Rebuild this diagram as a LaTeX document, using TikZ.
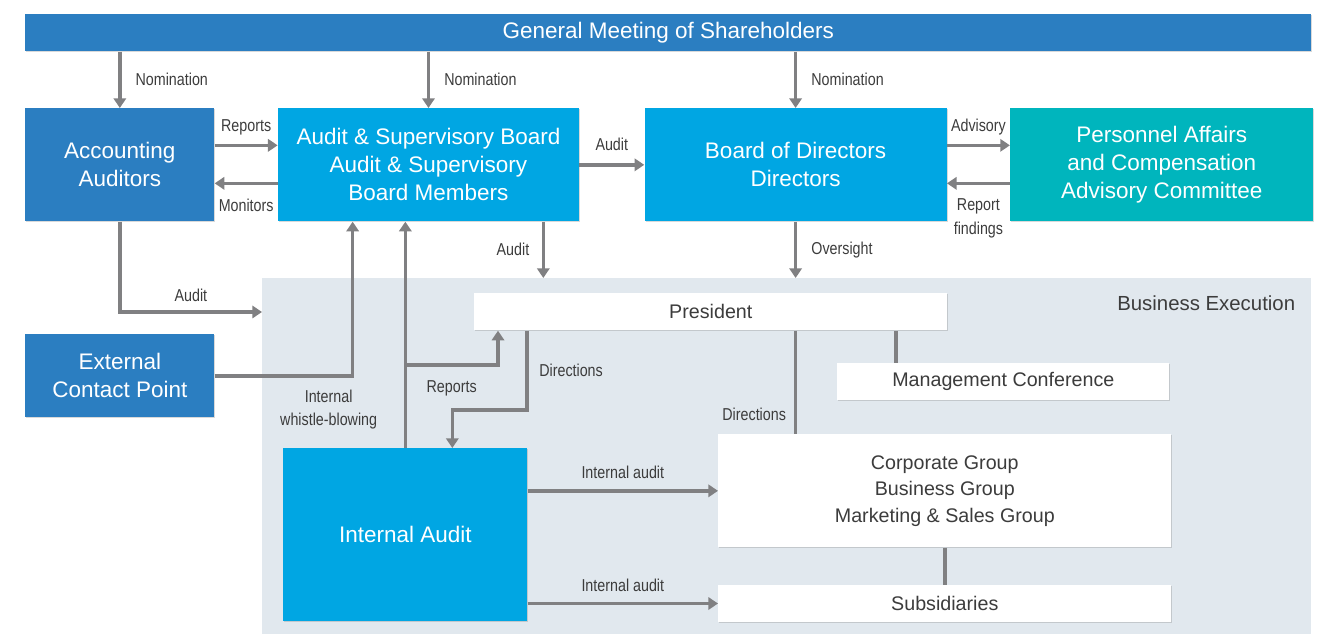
\documentclass[tikz,border=0pt]{standalone}
\usepackage{fontspec}
\setmainfont{Liberation Sans}
\newfontfamily\narrowfont[FakeStretch=0.83]{Liberation Sans}
\usepackage{tikz}
\usetikzlibrary{positioning,calc,arrows.meta,shadows}

\definecolor{deepblue}{RGB}{43,126,193}
\definecolor{skyblue}{RGB}{0,166,227}
\definecolor{boardteal}{RGB}{0,181,189}
\definecolor{execgray}{RGB}{225,232,238}
\definecolor{linegray}{RGB}{128,128,130}
\definecolor{textgray}{RGB}{60,60,60}

\begin{document}
\begin{tikzpicture}[
  x=0.02cm, y=-0.02cm,
  organ/.style={rectangle, fill=#1, text=white, align=center, inner sep=0pt,
    font=\fontsize{12.8}{15.9}\selectfont,
    drop shadow={shadow xshift=0.6pt, shadow yshift=-0.6pt, opacity=0.3}},
  unit/.style={rectangle, fill=white, text=textgray, align=center, inner sep=0pt,
    minimum width=9.06cm, minimum height=0.74cm, font=\fontsize{11.2}{15}\selectfont,
    drop shadow={shadow xshift=0.6pt, shadow yshift=-0.6pt, opacity=0.3}},
  arr/.style={draw=linegray, line width=2pt, -{Triangle[width=7pt, length=5.5pt]}},
  link/.style={draw=linegray, line width=2pt},
  tag/.style={font=\narrowfont\fontsize{9.8}{13.2}\selectfont, text=textgray, align=center, inner sep=3pt}
]
\useasboundingbox (0,0) rectangle (1322,634);

% business execution area
\node[fill=execgray, inner sep=0pt, minimum width=20.98cm, minimum height=7.12cm, anchor=north west] (exec) at (262,278) {};
\node[anchor=east, text=textgray, font=\fontsize{11.6}{14}\selectfont, inner sep=0pt] (exectitle) at ($(exec.north east)+(-16,25)$) {Business Execution};

% governing bodies
\node[organ=deepblue, minimum width=25.72cm, minimum height=0.74cm, anchor=north west] (gms) at (25,14) {General Meeting of Shareholders};
\node[organ=deepblue, minimum width=3.78cm, minimum height=2.26cm, anchor=north west] (acc) at (25,108) {Accounting\\Auditors};
\node[organ=skyblue, minimum width=6.02cm, minimum height=2.26cm, right=1.26cm of acc] (asb) {Audit \& Supervisory Board\\Audit \& Supervisory\\Board Members};
\node[organ=skyblue, minimum width=6.04cm, minimum height=2.26cm, right=1.3cm of asb] (bod) {Board of Directors\\Directors};
\node[organ=boardteal, minimum width=6.06cm, minimum height=2.26cm, right=1.26cm of bod] (pac) {Personnel Affairs\\and Compensation\\Advisory Committee};
\node[organ=deepblue, minimum width=3.78cm, minimum height=1.66cm, anchor=north west] (ext) at (25,334) {External\\Contact Point};
\node[organ=skyblue, minimum width=4.88cm, minimum height=3.46cm, anchor=north west] (ia) at (283,448) {Internal Audit};

% execution units
\node[unit, minimum width=9.46cm, anchor=north west] (pres) at (474,293) {President};
\node[unit, minimum width=6.64cm, anchor=north west] (mc) at (837,363) {Management Conference};
\node[unit, minimum height=2.26cm, anchor=north west] (grp) at (718,434) {Corporate Group\\Business Group\\Marketing \& Sales Group};
\node[unit, below=0.74cm of grp] (sub) {Subsidiaries};

% helper points
\coordinate (asbaudit) at ($(asb.south east)+(-36,0)$);
\coordinate (accin) at ($(exec.north west)+(0,34)$);
\coordinate (whistle) at ($(asb.south west)+(75,0)$);
\coordinate (iabranch) at ($(ia.north)+(0,-83)$);
\coordinate (presrep) at ($(pres.south west)+(24,0)$);
\coordinate (presdir) at ($(pres.south west)+(53,0)$);
\coordinate (iadir) at ($(ia.north)+(47,0)$);
\coordinate (mctop) at ($(mc.north west)+(59,0)$);

% nominations
\draw[arr] (gms.south -| acc) -- node[tag, right=5pt]{Nomination} (acc);
\draw[arr] (gms.south -| asb) -- node[tag, right=5pt]{Nomination} (asb);
\draw[arr] (gms.south -| bod) -- node[tag, right=5pt]{Nomination} (bod);

% top row
\draw[arr] ($(acc.east)+(0,-19.5)$) -- node[tag, above=2pt]{Reports} ($(asb.west)+(0,-19.5)$);
\draw[arr] ($(asb.west)+(0,18.5)$) -- node[tag, below=5pt]{Monitors} ($(acc.east)+(0,18.5)$);
\draw[arr] (asb) -- node[tag, above=4pt]{Audit} (bod);
\draw[arr] ($(bod.east)+(0,-19.5)$) -- node[tag, above=2pt]{Advisory} ($(pac.west)+(0,-19.5)$);
\draw[arr] ($(pac.west)+(0,18.5)$) -- node[tag, below=5pt]{Report\\findings} ($(bod.east)+(0,18.5)$);

% into business execution
\draw[arr] (asbaudit) -- node[tag, left=4pt]{Audit} (asbaudit |- exec.north);
\draw[arr] (bod) -- node[tag, right=5pt]{Oversight} (bod |- exec.north);
\draw[arr] (acc.south) |- node[tag, pos=0.75, above=2pt]{Audit} (accin);

% whistle-blowing and internal audit
\draw[arr] (ext.east) -| node[tag, pos=0.5, below=4pt, xshift=-0.48cm]{Internal\\whistle-blowing} (whistle);
\draw[arr] (ia.north) -- (ia.north |- asb.south);
\draw[arr] (iabranch) -| node[tag, pos=0.25, below=5pt]{Reports} (presrep);
\draw[arr] (presdir) |- node[tag, pos=0.25, right=3pt]{Directions} ($(iadir)+(0,-38)$) -- (iadir);
\draw[link] (pres.south -| bod.south) -- node[tag, pos=0.81, left=1.5pt]{Directions} (grp.north -| bod.south);
\draw[link] (mctop) -- (mctop |- pres.south);
\draw[link] (grp) -- (sub);
\draw[arr] (ia.east |- grp) -- node[tag, above=3pt]{Internal audit} (grp.west);
\draw[arr] (ia.east |- sub) -- node[tag, above=3pt]{Internal audit} (sub.west);

\end{tikzpicture}
\end{document}
